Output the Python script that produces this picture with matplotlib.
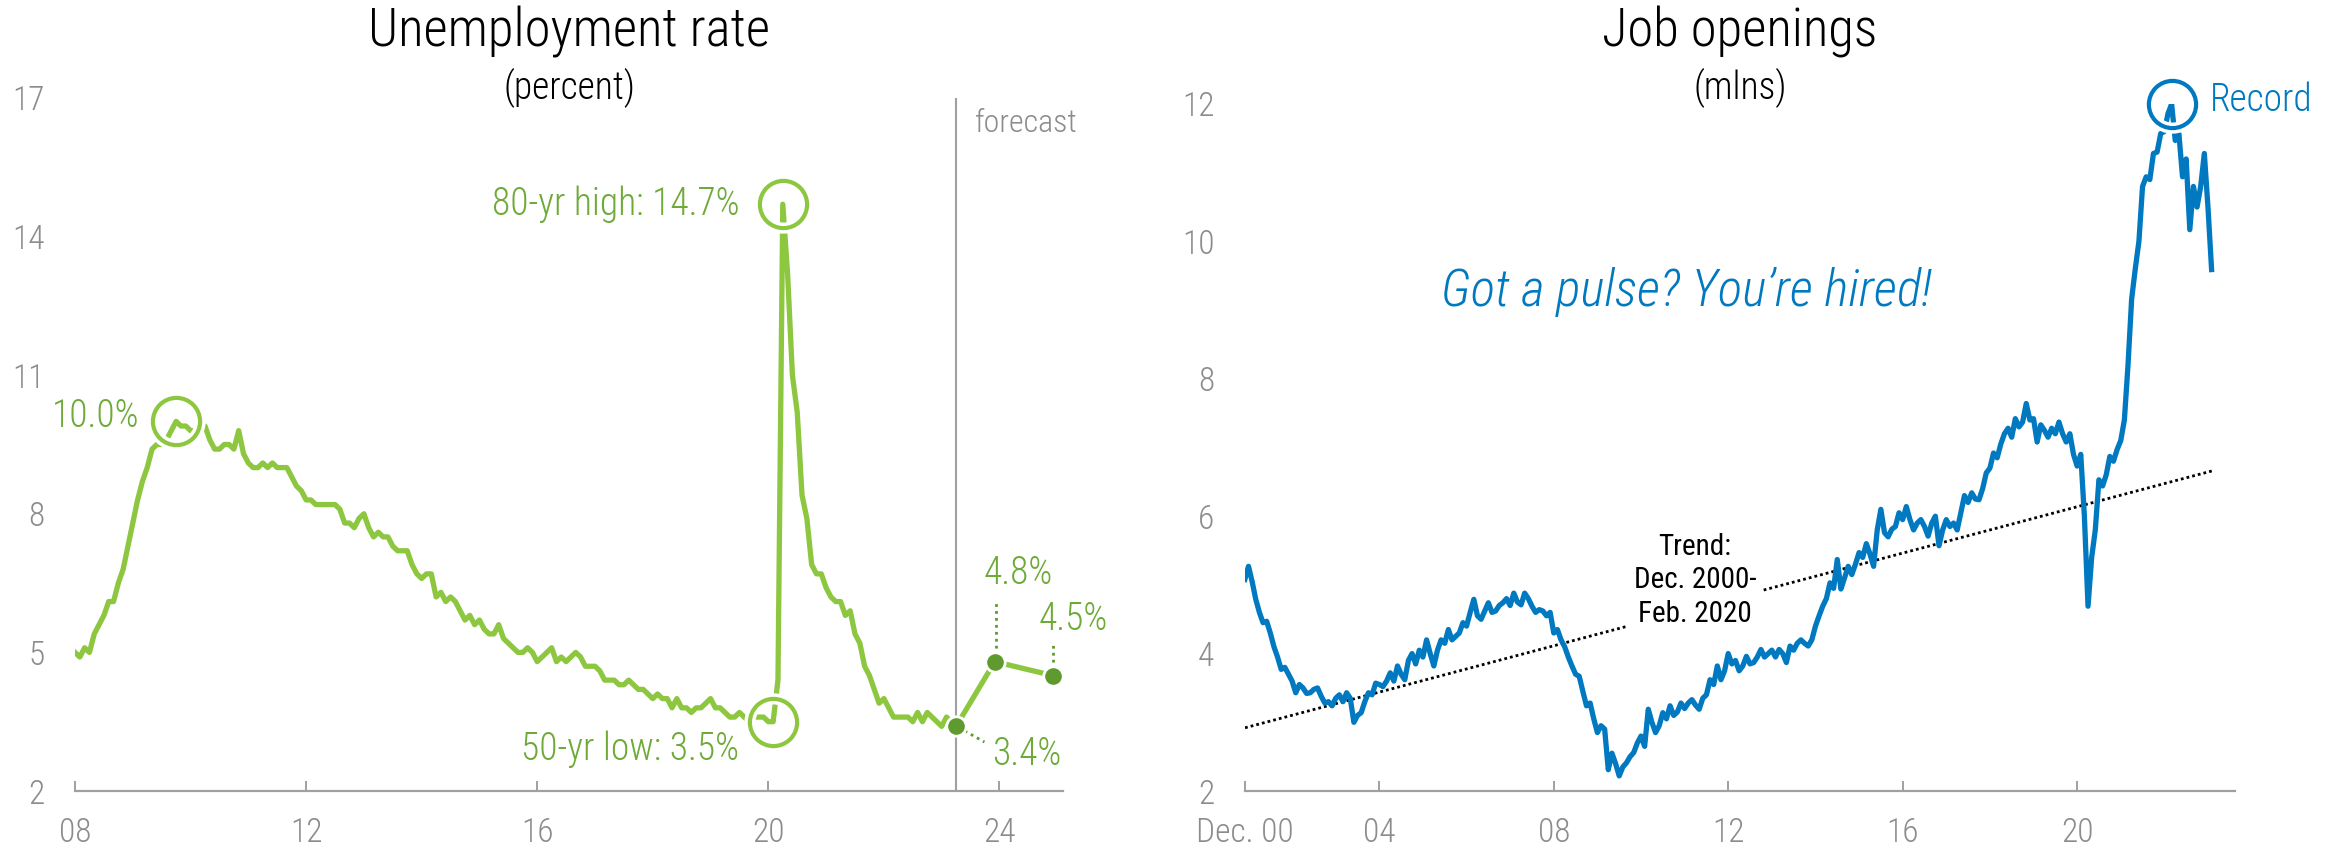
import matplotlib
matplotlib.use("Agg")
from matplotlib import pyplot as plt
import numpy as np

plt.rcParams['font.family'] = ['Roboto Condensed', 'DejaVu Sans']
plt.rcParams['font.weight'] = 'light'

# US unemployment rate, monthly, Jan 2008 - Apr 2023 (percent)
unemployment = [
    5.0, 4.9, 5.1, 5.0, 5.4, 5.6, 5.8, 6.1, 6.1, 6.5, 6.8, 7.3,      # 2008
    7.8, 8.3, 8.7, 9.0, 9.4, 9.5, 9.5, 9.6, 9.8, 10.0, 9.9, 9.9,     # 2009
    9.8, 9.8, 9.9, 9.9, 9.6, 9.4, 9.4, 9.5, 9.5, 9.4, 9.8, 9.3,      # 2010
    9.1, 9.0, 9.0, 9.1, 9.0, 9.1, 9.0, 9.0, 9.0, 8.8, 8.6, 8.5,      # 2011
    8.3, 8.3, 8.2, 8.2, 8.2, 8.2, 8.2, 8.1, 7.8, 7.8, 7.7, 7.9,      # 2012
    8.0, 7.7, 7.5, 7.6, 7.5, 7.5, 7.3, 7.2, 7.2, 7.2, 6.9, 6.7,      # 2013
    6.6, 6.7, 6.7, 6.2, 6.3, 6.1, 6.2, 6.1, 5.9, 5.7, 5.8, 5.6,      # 2014
    5.7, 5.5, 5.4, 5.4, 5.6, 5.3, 5.2, 5.1, 5.0, 5.0, 5.1, 5.0,      # 2015
    4.8, 4.9, 5.0, 5.1, 4.8, 4.9, 4.8, 4.9, 5.0, 4.9, 4.7, 4.7,      # 2016
    4.7, 4.6, 4.4, 4.4, 4.4, 4.3, 4.3, 4.4, 4.3, 4.2, 4.2, 4.1,      # 2017
    4.0, 4.1, 4.0, 4.0, 3.8, 4.0, 3.8, 3.8, 3.7, 3.8, 3.8, 3.9,      # 2018
    4.0, 3.8, 3.8, 3.7, 3.6, 3.6, 3.7, 3.6, 3.5, 3.6, 3.6, 3.6,      # 2019
    3.5, 3.5, 4.4, 14.7, 13.2, 11.0, 10.2, 8.4, 7.9, 6.9, 6.7, 6.7,  # 2020
    6.4, 6.2, 6.1, 6.1, 5.8, 5.9, 5.4, 5.2, 4.7, 4.5, 4.2, 3.9,      # 2021
    4.0, 3.8, 3.6, 3.6, 3.6, 3.6, 3.5, 3.7, 3.5, 3.7, 3.6, 3.5,      # 2022
    3.4, 3.6, 3.5, 3.4,                                              # 2023
]
unemp_x = 2008 + np.arange(len(unemployment)) / 12

# forecast path
forecast_x = [2023.25, 2023.92, 2024.92]
forecast_y = [3.4, 4.8, 4.5]

# job openings, monthly, Dec 2000 - Feb 2023 (mlns)
job_openings = [
    5.08,                                                                       # Dec 2000
    5.27, 5.05, 4.79, 4.60, 4.45, 4.47, 4.30, 4.10, 3.95, 3.77, 3.80, 3.70,    # 2001
    3.60, 3.43, 3.55, 3.50, 3.42, 3.43, 3.48, 3.50, 3.38, 3.28, 3.30, 3.24,    # 2002
    3.35, 3.40, 3.30, 3.43, 3.35, 3.00, 3.10, 3.14, 3.30, 3.43, 3.40, 3.57,    # 2003
    3.55, 3.52, 3.60, 3.72, 3.60, 3.82, 3.70, 3.62, 3.90, 4.00, 3.85, 4.05,    # 2004
    3.95, 4.20, 4.00, 3.82, 4.05, 4.20, 4.15, 4.35, 4.20, 4.25, 4.30, 4.45,    # 2005
    4.40, 4.60, 4.79, 4.55, 4.50, 4.62, 4.74, 4.60, 4.62, 4.70, 4.74, 4.80,    # 2006
    4.70, 4.88, 4.75, 4.71, 4.88, 4.80, 4.69, 4.60, 4.64, 4.62, 4.55, 4.60,    # 2007
    4.30, 4.35, 4.20, 4.10, 3.95, 3.82, 3.70, 3.67, 3.45, 3.24, 3.28, 3.05,    # 2008
    2.85, 2.95, 2.90, 2.31, 2.55, 2.40, 2.22, 2.35, 2.41, 2.50, 2.56, 2.70,    # 2009
    2.80, 2.65, 3.19, 3.00, 2.85, 2.95, 3.14, 3.05, 3.24, 3.10, 3.15, 3.28,    # 2010
    3.20, 3.28, 3.33, 3.25, 3.19, 3.35, 3.40, 3.62, 3.55, 3.82, 3.62, 3.75,    # 2011
    4.00, 3.85, 3.90, 3.75, 3.82, 3.96, 3.85, 3.87, 3.95, 4.06, 3.95, 4.00,    # 2012
    4.05, 3.95, 4.06, 4.00, 3.87, 4.11, 4.05, 4.15, 4.20, 4.15, 4.11, 4.20,    # 2013
    4.40, 4.55, 4.69, 4.80, 5.03, 4.95, 5.37, 4.94, 5.10, 5.27, 5.15, 5.30,    # 2014
    5.47, 5.40, 5.60, 5.45, 5.27, 5.80, 6.10, 5.76, 5.70, 5.81, 5.85, 6.05,    # 2015
    5.95, 6.14, 5.95, 5.80, 5.90, 5.95, 5.85, 5.71, 5.90, 6.00, 5.57, 5.80,    # 2016
    5.95, 5.85, 5.90, 5.80, 6.05, 6.30, 6.20, 6.34, 6.25, 6.24, 6.40, 6.63,    # 2017
    6.70, 6.92, 6.85, 7.05, 7.20, 7.28, 7.15, 7.42, 7.30, 7.37, 7.64, 7.40,    # 2018
    7.42, 7.08, 7.33, 7.25, 7.15, 7.28, 7.20, 7.37, 7.20, 7.08, 7.20, 6.90,    # 2019
    6.73, 6.90, 6.00, 4.69, 5.40, 5.80, 6.53, 6.44, 6.60, 6.87, 6.80, 6.97,    # 2020
    7.10, 7.40, 8.20, 9.16, 9.60, 10.00, 10.80, 10.94, 10.90, 11.28, 11.30, 11.57,  # 2021
    11.60, 11.86, 12.00, 11.47, 11.57, 10.94, 11.20, 10.17, 10.80, 10.50, 10.80, 11.28,  # 2022
    10.50, 9.59,                                                                # 2023
]
jobs_x = 2000 + 11 / 12 + np.arange(len(job_openings)) / 12

# trend Dec 2000 - Feb 2020, extended
trend_x = [2000.92, 2023.1]
trend_y = [2.92, 6.66]

GREEN = '#8DC63F'
DARK_GREEN = '#5E9A2E'
TEXT_GREEN = '#6DAA37'
BLUE = '#0079C1'
GRAY = '#A0A0A0'
LABEL_GRAY = '#8C8C8C'
NOTE = 27

fig = plt.figure(figsize=(23.41, 8.51), dpi=100)
ax1 = fig.add_axes([75 / 2341, 1 - 791 / 851, (1063 - 75) / 2341, (791 - 98) / 851])
ax2 = fig.add_axes([1245 / 2341, 1 - 791 / 851, (2235 - 1245) / 2341, (791 - 104) / 851])


def style(ax):
    for s in ['top', 'right', 'left']:
        ax.spines[s].set_visible(False)
    ax.spines['bottom'].set_color(GRAY)
    ax.spines['bottom'].set_linewidth(1.6)
    ax.tick_params(axis='x', direction='in', length=7, width=1.4, color=GRAY,
                   labelcolor=LABEL_GRAY, labelsize=24, pad=19)
    ax.tick_params(axis='y', length=0, labelcolor=LABEL_GRAY, labelsize=24, pad=22)


def ring(ax, x, y, color):
    ax.plot([x], [y], 'o', ms=34, mfc='none', mec='white', mew=8, clip_on=False, zorder=4)
    ax.plot([x], [y], 'o', ms=34, mfc='none', mec=color, mew=3, clip_on=False, zorder=5)


# ---- left: unemployment rate
style(ax1)
ax1.axvline(forecast_x[0], color=GRAY, lw=1.5, zorder=1)
ax1.plot(unemp_x, unemployment, color=GREEN, lw=3.8, zorder=2)
ax1.plot(forecast_x, forecast_y, color=GREEN, lw=3.8, zorder=2)
ax1.plot(forecast_x, forecast_y, 'o', ms=14, mfc=DARK_GREEN, mec='white', mew=2, zorder=3)
ax1.set_xlim(2008, 2025.1)
ax1.set_ylim(2, 17)
ax1.set_yticks([2, 5, 8, 11, 14, 17])
ax1.set_xticks([2008, 2012, 2016, 2020, 2024])
ax1.set_xticklabels(['08', '12', '16', '20', '24'])

ring(ax1, unemp_x[21], unemployment[21], GREEN)    # Oct 2009
ring(ax1, unemp_x[147], unemployment[147], GREEN)  # Apr 2020
ring(ax1, unemp_x[145], unemployment[145], GREEN)  # Feb 2020

ax1.text(2019.5, 14.71, '80-yr high: 14.7%', ha='right', va='center', color=TEXT_GREEN, fontsize=NOTE)
ax1.text(2009.12, 10.11, '10.0%', ha='right', va='center', color=TEXT_GREEN, fontsize=NOTE)
ax1.text(2019.5, 2.9, '50-yr low: 3.5%', ha='right', va='center', color=TEXT_GREEN, fontsize=NOTE)
ax1.text(2024.33, 6.72, '4.8%', ha='center', va='center', color=TEXT_GREEN, fontsize=NOTE)
ax1.text(2024.67, 5.72, '4.5%', ha='left', va='center', color=TEXT_GREEN, fontsize=NOTE, clip_on=False)
ax1.text(2023.88, 2.8, '3.4%', ha='left', va='center', color=TEXT_GREEN, fontsize=NOTE)
ax1.text(2023.57, 16.45, 'forecast', ha='left', va='center', color=LABEL_GRAY, fontsize=23)

dots = dict(color=DARK_GREEN, lw=2, ls=(0, (1, 1.5)), zorder=1)
ax1.plot([2023.94, 2023.94], [4.95, 6.1], **dots)
ax1.plot([2024.93, 2024.93], [4.65, 5.23], **dots)
ax1.plot([2023.4, 2023.74], [3.3, 3.06], **dots)

# ---- right: job openings
style(ax2)
ax2.plot(trend_x, trend_y, color='black', lw=2, ls=(0, (1, 1.1)), zorder=1)
ax2.plot(jobs_x, job_openings, color=BLUE, lw=3.8, zorder=2)
ax2.set_xlim(2000.92, 2023.62)
ax2.set_ylim(2, 12)
ax2.set_yticks([2, 4, 6, 8, 10, 12])
ax2.set_xticks([2000.92, 2004, 2008, 2012, 2016, 2020])
ax2.set_xticklabels(['Dec. 00', '04', '08', '12', '16', '20'])

peak = int(np.argmax(job_openings))
ring(ax2, jobs_x[peak], job_openings[peak], BLUE)
ax2.text(2023.05, 12.06, 'Record', ha='left', va='center', color=BLUE, fontsize=NOTE, clip_on=False)
ax2.text(2011.03, 9.26, 'Got a pulse? You\u2019re hired!', ha='center', va='center',
         color=BLUE, fontsize=37, style='italic')
ax2.text(2011.24, 5.07, 'Trend:\nDec. 2000-\nFeb. 2020', ha='center', va='center',
         color='black', fontsize=21, fontweight='normal', linespacing=1.25,
         bbox=dict(facecolor='white', edgecolor='none', pad=4), zorder=3)

# ---- titles
fig.text(569 / 2341, 0.962, 'Unemployment rate', ha='center', va='center', fontsize=38)
fig.text(569 / 2341, 0.897, '(percent)', ha='center', va='center', fontsize=27)
fig.text(1740 / 2341, 0.962, 'Job openings', ha='center', va='center', fontsize=38)
fig.text(1740 / 2341, 0.897, '(mlns)', ha='center', va='center', fontsize=27)

fig.savefig('out.png', dpi=100)
